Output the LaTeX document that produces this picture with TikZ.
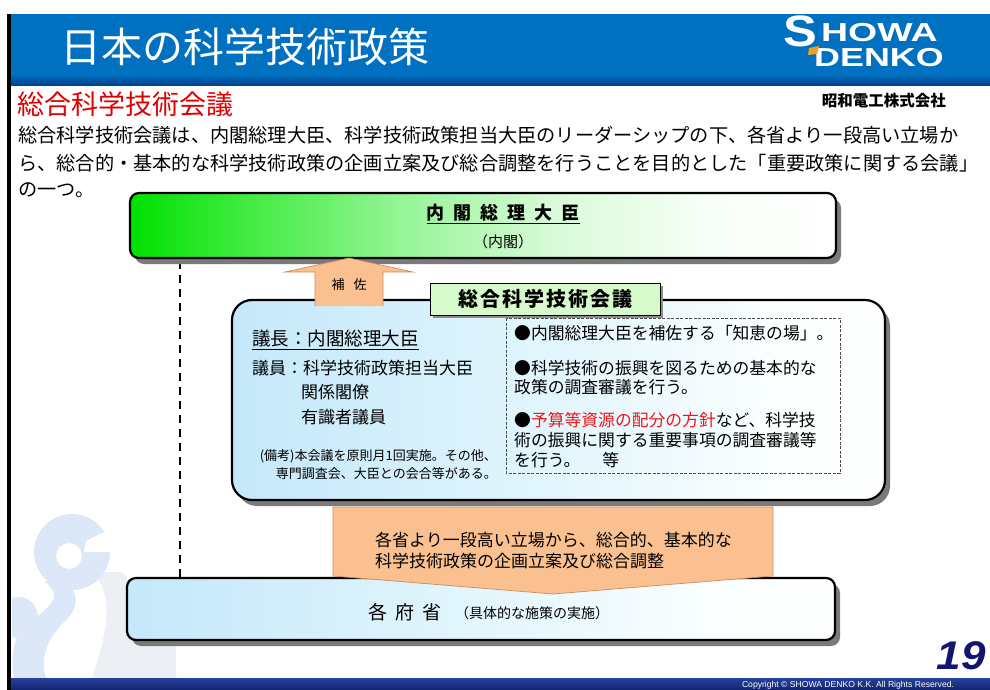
\documentclass[tikz,border=0pt]{standalone}
\usepackage{graphicx}
\usepackage{fontspec}
\setmainfont{Liberation Sans}
\newfontfamily\jp{Noto Sans CJK JP}
\usetikzlibrary{shadows}

\newcommand\myfs[1]{\fontsize{#1}{#1}\selectfont}

\definecolor{hdrblue}{RGB}{0,112,192}
\definecolor{hdrdark}{RGB}{0,62,135}
\definecolor{peach}{RGB}{250,192,144}
\definecolor{peachline}{RGB}{205,140,95}
\definecolor{tabgreen}{RGB}{214,250,204}
\definecolor{navy}{RGB}{20,22,110}
\definecolor{barblue}{RGB}{36,66,155}
\definecolor{bardark}{RGB}{20,36,112}
\definecolor{swirl}{RGB}{220,231,248}
\definecolor{swirlgray}{RGB}{236,239,243}
\definecolor{alertred}{RGB}{235,25,25}
\definecolor{headred}{RGB}{225,0,0}
\definecolor{logoorange}{RGB}{240,160,40}

% left-to-right fades; the path spans 25bp..75bp of each shading
\pgfdeclarehorizontalshading{greenfade}{100bp}{rgb(0bp)=(0,0.88,0); rgb(25bp)=(0,0.88,0); rgb(33bp)=(0.25,0.92,0.25); rgb(44bp)=(0.58,0.96,0.58); rgb(55bp)=(0.85,0.98,0.85); rgb(66bp)=(0.97,1,0.97); rgb(75bp)=(1,1,1); rgb(100bp)=(1,1,1)}
\pgfdeclarehorizontalshading{bluefade}{100bp}{rgb(0bp)=(0.77,0.91,0.98); rgb(25bp)=(0.77,0.91,0.98); rgb(48bp)=(0.88,0.96,0.99); rgb(68bp)=(0.99,1,1); rgb(100bp)=(1,1,1)}

\tikzset{
  panel/.style={draw=black, line width=2.2pt, inner sep=0pt,
    drop shadow={shadow xshift=5pt, shadow yshift=-6pt, fill=black!52, opacity=1}},
  txt/.style={inner sep=0pt, anchor=west, text=black},
  logotext/.style={inner sep=0pt, anchor=west, text=white, text height=0.72em, text depth=0pt},
  blockarrow/.style={fill=peach, draw=peachline, line width=0.7pt, line join=miter},
  guide/.style={draw=black, line width=1.4pt, dash pattern=on 8pt off 6pt},
  notebox/.style={draw=black!70, line width=0.8pt, dash pattern=on 3pt off 1.5pt},
  tabbox/.style={draw=black, line width=1pt, fill=tabgreen, minimum width=230pt,
    minimum height=32pt, inner sep=0pt,
    drop shadow={shadow xshift=3pt, shadow yshift=-3pt, fill=black!45, opacity=1}},
}

\begin{document}
\begin{tikzpicture}[x=1pt,y=-1pt]
  % page
  \fill[white] (0,0) rectangle (990,690);
  \useasboundingbox (0,0) rectangle (990,690);

  % faint swirl ornament at the lower left
  \fill[swirlgray] (92,572) .. controls (118,598) and (104,640) .. (92,678)
        -- (176,678) -- (176,640) .. controls (150,622) and (140,590) .. (122,572) -- cycle;
  \fill[swirl, even odd rule] (72,552) circle (38pt) (69,556) circle (13pt);
  \fill[white] (86,541) -- (112,528) -- (112,552) -- (84,552) -- cycle;
  \fill[swirl] (44,582) .. controls (70,598) and (40,612) .. (22,630)
        .. controls (10,645) and (12,665) .. (14,678) -- (46,678)
        .. controls (40,660) and (46,640) .. (64,622)
        .. controls (84,604) and (76,586) .. (58,578) -- cycle;
  \fill[swirl] (12,598) .. controls (30,592) and (44,612) .. (36,628)
        .. controls (28,642) and (16,640) .. (12,636) -- cycle;

  % header band
  \fill[hdrblue] (11,14) rectangle (990,86);
  \shade[top color=hdrblue, bottom color=hdrdark] (11,74) rectangle (990,86);
  % footer band
  \shade[top color=barblue, bottom color=bardark] (11,678) rectangle (990,690);
  % left rule
  \fill[black] (7,14) rectangle (11,690);

  % header title and logo
  \node[txt, text=white, font={\jp\myfs{41}}] (title) at (60,47) {日本の科学技術政策};
  \node[logotext, font={\bfseries\myfs{44}}] (logoS) at (783,43) {\scalebox{1.15}[1]{S}};
  \node[logotext, font={\bfseries\myfs{26}}] (logoH) at (821,38) {\scalebox{1.44}[1]{HOWA}};
  \node[logotext, font={\bfseries\myfs{26}}] (logoD) at (814,63) {\scalebox{1.38}[1]{DENKO}};
  \fill[logoorange] (809,48) -- (819,46) -- (817,54) -- (808,55) -- cycle;

  % section heading and lead text
  \node[txt, text=headred, font={\jp\myfs{27}}] (head) at (17,104) {総合科学技術会議};
  \node[inner sep=0pt, anchor=east, font={\jp\bfseries\myfs{15.5}}] (corp) at (946,101) {昭和電工株式会社};
  \node[txt, font={\jp\myfs{19.2}}] (lead1) at (18,135)
    {総合科学技術会議は、内閣総理大臣、科学技術政策担当大臣のリーダーシップの下、各省より一段高い立場か};
  \node[txt, font={\jp\myfs{19.2}}] (lead2) at (18,163)
    {ら、総合的・基本的な科学技術政策の企画立案及び総合調整を行うことを目的とした「重要政策に関する会議」};
  \node[txt, font={\jp\myfs{19.2}}] (lead3) at (18,190) {の一つ。};

  % dashed guide from the cabinet down to the ministries
  \coordinate (guideTop) at (180,261);
  \coordinate (guideBot) at (180,577);
  \draw[guide] (guideTop) -- (guideBot);

  % prime minister
  \node[panel, shading=greenfade, minimum width=706pt, minimum height=65pt,
        rounded corners=9pt] (pm) at (483,225.5) {};
  \node[inner sep=0pt, font={\jp\bfseries\myfs{18}}] (pmname) at (503,214)
    {\underline{内\kern9pt 閣\kern9pt 総\kern9pt 理\kern9pt 大\kern9pt 臣}};
  \node[inner sep=0pt, font={\jp\myfs{15}}] (pmsub) at (503,242) {（内閣）};

  % council
  \node[panel, shading=bluefade, minimum width=653pt, minimum height=200pt,
        rounded corners=20pt] (council) at (558.5,400) {};
  \node[tabbox, font={\jp\bfseries\myfs{20}}] (tab) at (545,299)
    {総\kern2pt 合\kern2pt 科\kern2pt 学\kern2pt 技\kern2pt 術\kern2pt 会\kern2pt 議};

  % support arrow: council up to prime minister
  \coordinate (upTip) at (349,258);
  \path[blockarrow] (315,306) -- (315,272) -- (285,272) -- (upTip)
        -- (413,272) -- (383,272) -- (383,306);
  \node[inner sep=0pt, font={\jp\myfs{13}}] (support) at (349,285) {補\kern9pt 佐};

  % council membership
  \node[txt, font={\jp\myfs{18.5}}] (chair) at (252,340) {\underline{議長：内閣総理大臣}};
  \node[txt, font={\jp\myfs{17}}] (members) at (252,368) {議員：科学技術政策担当大臣};
  \node[txt, font={\jp\myfs{17}}] (members2) at (301,392) {関係閣僚};
  \node[txt, font={\jp\myfs{17}}] (members3) at (301,417) {有識者議員};
  \node[inner sep=0pt, anchor=east, font={\jp\myfs{13}}] (note1) at (497,456) {(備考)本会議を原則月1回実施。その他、};
  \node[inner sep=0pt, anchor=east, font={\jp\myfs{13}}] (note2) at (497,474) {専門調査会、大臣との会合等がある。};

  % council roles
  \draw[notebox] (506,318) rectangle (840,473);
  \node[txt, font={\jp\myfs{16.8}}] (role1) at (514,333) {●内閣総理大臣を補佐する「知恵の場」。};
  \node[txt, font={\jp\myfs{16.8}}] (role2a) at (514,368) {●科学技術の振興を図るための基本的な};
  \node[txt, font={\jp\myfs{16.8}}] (role2b) at (514,387) {政策の調査審議を行う。};
  \node[txt, font={\jp\myfs{16.8}}] (role3a) at (514,420) {●\textcolor{alertred}{予算等資源の配分の方針}など、科学技};
  \node[txt, font={\jp\myfs{16.8}}] (role3b) at (514,440) {術の振興に関する重要事項の調査審議等};
  \node[txt, font={\jp\myfs{16.8}}] (role3c) at (514,460) {を行う。\kern22pt 等};

  % ministries
  \node[panel, shading=bluefade, minimum width=708pt, minimum height=62pt,
        rounded corners=9pt] (min) at (481,609) {};

  % coordination arrow: council down to ministries
  \coordinate (downTip) at (553,594);
  \path[blockarrow] (333,507) -- (773,507) -- (773,576) -- (downTip) -- (333,576) -- cycle;
  \node[txt, font={\jp\myfs{17}}] (coord1) at (375,540) {各省より一段高い立場から、総合的、基本的な};
  \node[txt, font={\jp\myfs{17}}] (coord2) at (375,561) {科学技術政策の企画立案及び総合調整};

  \node[txt, font={\jp\myfs{19}}] (minname) at (368,612) {各\kern8pt 府\kern8pt 省};
  \node[txt, font={\jp\myfs{14}}] (minsub) at (455,613) {（具体的な施策の実施）};

  % page number and footer
  \node[inner sep=0pt, text=navy, font={\bfseries\itshape\myfs{40}}] (page) at (961,656) {\scalebox{1.1}[1]{19}};
  \node[inner sep=0pt, text=white, font={\myfs{8.6}}] (copy) at (848,685)
    {Copyright \textcopyright\ SHOWA DENKO K.K. All Rights Reserved.};
\end{tikzpicture}
\end{document}
